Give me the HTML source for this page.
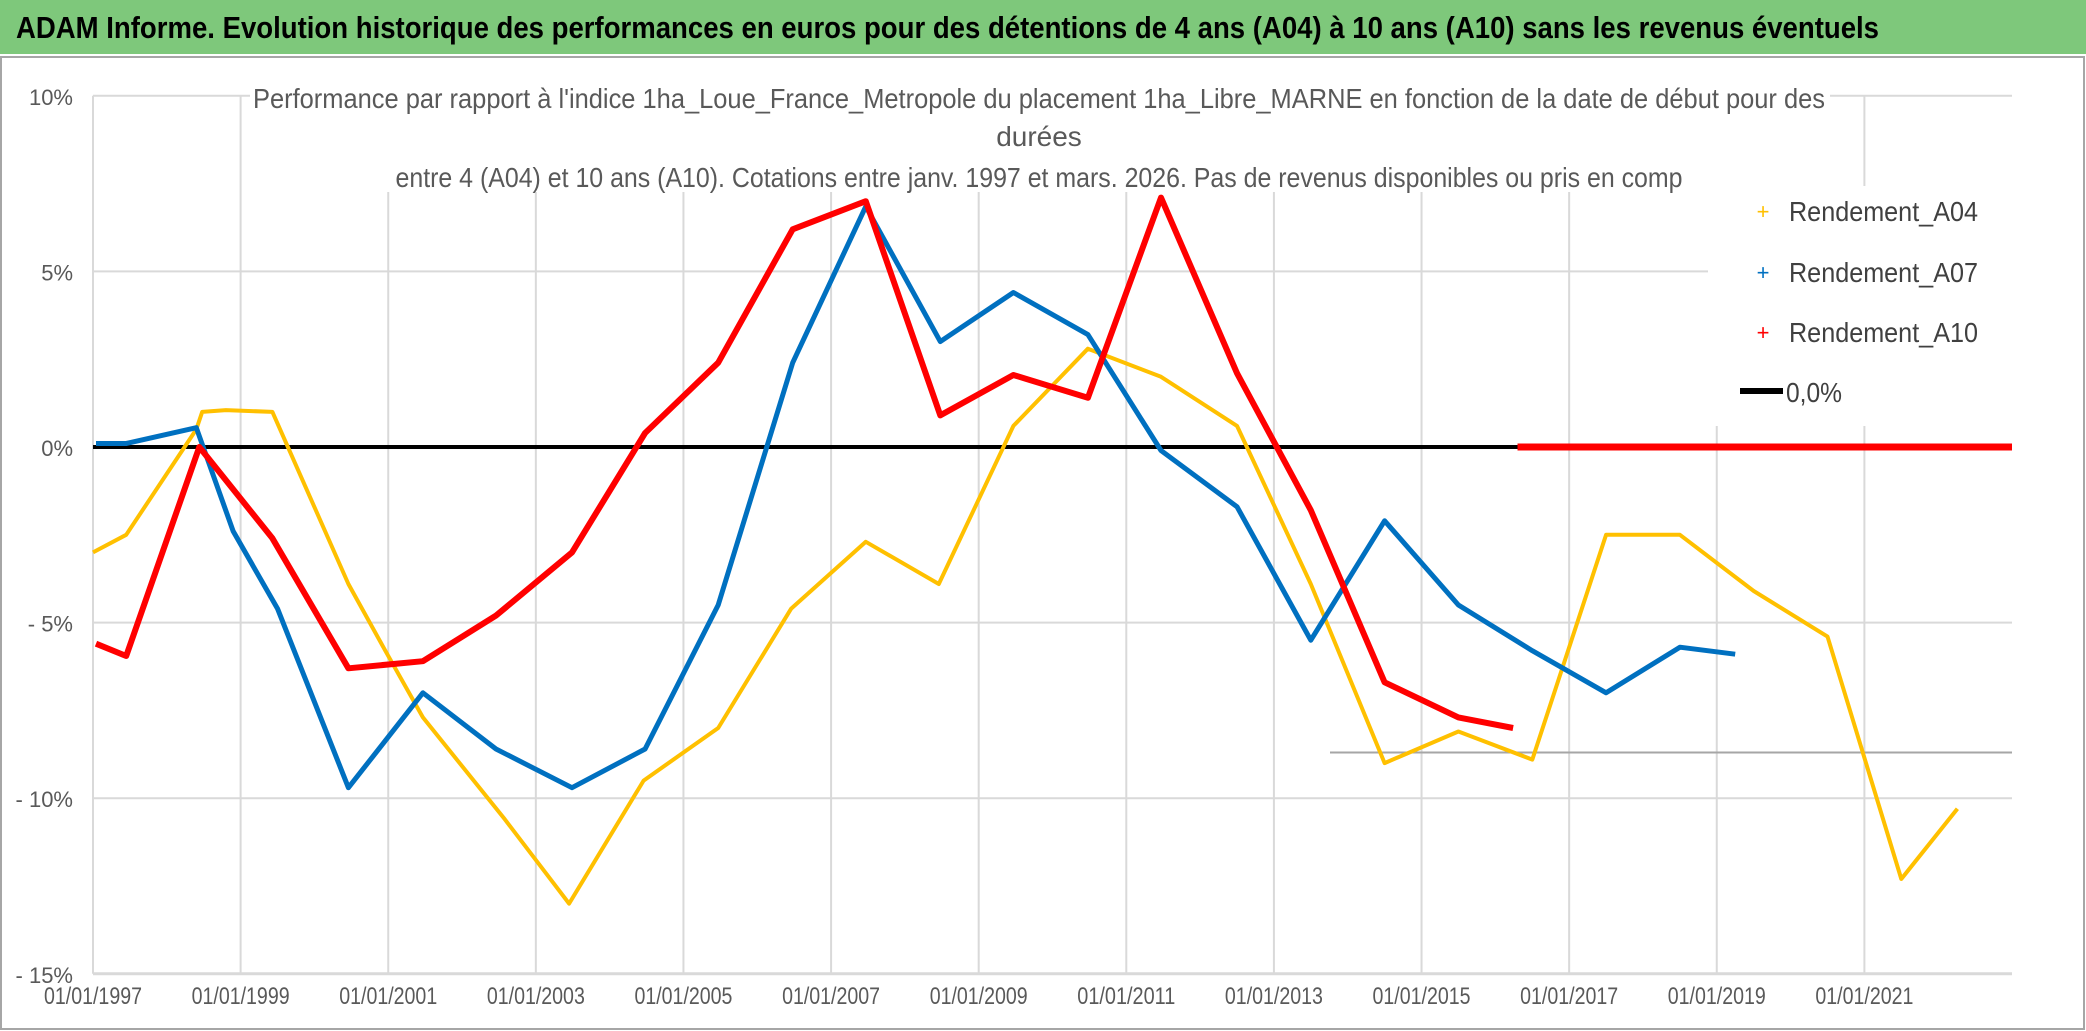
<!DOCTYPE html>
<html><head><meta charset="utf-8"><style>
html,body{margin:0;padding:0;background:#fff}
svg{display:block}
text{font-family:"Liberation Sans Narrow","Liberation Sans",sans-serif}
</style></head><body>
<svg id="chart" width="2086" height="1031" viewBox="0 0 2086 1031" xmlns="http://www.w3.org/2000/svg">
<rect x="0" y="0" width="2086" height="1031" fill="#fff"/>
<rect x="0" y="0" width="2086" height="54" fill="#7ec87b"/>
<text x="16" y="38" font-size="31" font-weight="bold" fill="#000" textLength="1863" lengthAdjust="spacingAndGlyphs">ADAM Informe. Evolution historique des performances en euros pour des détentions de 4 ans (A04) à 10 ans (A10) sans les revenus éventuels</text>
<rect x="1" y="57" width="2083" height="972" fill="none" stroke="#a6a6a6" stroke-width="2"/>
<g id="grid"></g>
<g id="series"></g>
<rect x="250" y="76" width="1580" height="116" fill="#fff"/>
<text x="1039" y="108" font-size="28" fill="#595959" text-anchor="middle" textLength="1572" lengthAdjust="spacingAndGlyphs">Performance par rapport à l'indice 1ha_Loue_France_Metropole  du placement 1ha_Libre_MARNE en fonction de la date de début pour des</text>
<text x="1039" y="146" font-size="28" fill="#595959" text-anchor="middle">durées</text>
<text x="1039" y="187" font-size="28" fill="#595959" text-anchor="middle" textLength="1287" lengthAdjust="spacingAndGlyphs">entre 4 (A04) et 10 ans (A10). Cotations entre janv. 1997 et mars. 2026. Pas de revenus disponibles ou pris en comp</text>
<g>
<rect x="1708" y="186" width="315" height="240" fill="#fff"/>
<text x="1763" y="219" font-size="22" fill="#ffc000" text-anchor="middle">+</text>
<text x="1789" y="221" font-size="28" fill="#404040" textLength="189" lengthAdjust="spacingAndGlyphs">Rendement_A04</text>
<text x="1763" y="280" font-size="22" fill="#0070c0" text-anchor="middle">+</text>
<text x="1789" y="282" font-size="28" fill="#404040" textLength="189" lengthAdjust="spacingAndGlyphs">Rendement_A07</text>
<text x="1763" y="340" font-size="22" fill="#ff0000" text-anchor="middle">+</text>
<text x="1789" y="342" font-size="28" fill="#404040" textLength="189" lengthAdjust="spacingAndGlyphs">Rendement_A10</text>
<line x1="1740" y1="391" x2="1783" y2="391" stroke="#000" stroke-width="6"/>
<text x="1786" y="402" font-size="28" fill="#404040" textLength="56" lengthAdjust="spacingAndGlyphs">0,0%</text>
</g>
</svg>
<script>
const yTicks=[10,5,0,-5,-10,-15];
const yTickLabels=["10%","5%","0%","- 5%","- 10%","- 15%"];
const xTicks=[1997,1999,2001,2003,2005,2007,2009,2011,2013,2015,2017,2019,2021];
const xTickLabels=["01/01/1997","01/01/1999","01/01/2001","01/01/2003","01/01/2005","01/01/2007","01/01/2009","01/01/2011","01/01/2013","01/01/2015","01/01/2017","01/01/2019","01/01/2021"];
const a04Dates=[1997.0,1997.45,1998.4,1998.48,1998.8,1999.43,2000.46,2000.96,2001.47,2002.58,2003.45,2004.46,2005.47,2006.46,2007.47,2008.46,2009.47,2010.48,2011.47,2012.5,2013.5,2014.5,2015.5,2016.5,2017.5,2018.5,2019.5,2020.5,2021.5,2022.26];
const a04Values=[-3.0,-2.5,0.5,1.0,1.05,1.0,-3.9,-5.8,-7.7,-10.6,-13.0,-9.5,-8.0,-4.6,-2.7,-3.9,0.6,2.8,2.0,0.6,-3.9,-9.0,-8.1,-8.9,-2.5,-2.5,-4.1,-5.4,-12.3,-10.3];
const a07Dates=[1997.04,1997.45,1998.4,1998.9,1999.5,2000.46,2001.47,2002.46,2003.49,2004.48,2005.47,2006.48,2007.47,2008.48,2009.47,2010.48,2011.47,2012.5,2013.5,2014.5,2015.5,2016.5,2017.5,2018.5,2019.25];
const a07Values=[0.1,0.1,0.55,-2.4,-4.6,-9.7,-7.0,-8.6,-9.7,-8.6,-4.5,2.4,6.85,3.0,4.4,3.2,-0.1,-1.7,-5.5,-2.1,-4.5,-5.8,-7.0,-5.7,-5.9];
const a10Dates=[1997.04,1997.45,1998.44,1999.43,2000.46,2001.47,2002.46,2003.49,2004.48,2005.47,2006.48,2007.47,2008.48,2009.47,2010.48,2011.47,2012.5,2013.5,2014.5,2015.5,2016.24];
const a10Values=[-5.6,-5.95,0,-2.6,-6.3,-6.1,-4.8,-3.0,0.4,2.4,6.2,7.0,0.9,2.05,1.4,7.1,2.1,-1.8,-6.7,-7.7,-8.0];
const a10ZeroDates=[2016.3,2023];
const a10ZeroValues=[0,0];
const a04ZeroDates=[2022.6,2023];
const a04ZeroValues=[0,0];

const X0=93,X1=2012,Y0=95.8,Y1=973.8;
function xs(t){return X0+(t-1997)/(2023-1997)*(X1-X0);}
function ys(v){return Y0+(10-v)/25*(Y1-Y0);}
const NS="http://www.w3.org/2000/svg";
const grid=document.getElementById('grid'),ser=document.getElementById('series');
function mk(tag,attrs,parent){const e=document.createElementNS(NS,tag);for(const k in attrs)e.setAttribute(k,attrs[k]);parent.appendChild(e);return e;}
yTicks.forEach((v,i)=>{
  const l=mk('line',{x1:X0,x2:X1,y1:ys(v),y2:ys(v),stroke:'#d9d9d9','stroke-width':2},grid);
  
  
  const t=mk('text',{x:73,y:ys(v)+9,'font-size':22,fill:'#595959','text-anchor':'end'},grid);
  t.textContent=yTickLabels[i];
  
  
});
xTicks.forEach((d,i)=>{
  const l=mk('line',{x1:xs(d),x2:xs(d),y1:Y0,y2:Y1,stroke:'#d9d9d9','stroke-width':2},grid);
  
  
  const t=mk('text',{x:xs(d),y:1004,'font-size':24,fill:'#595959','text-anchor':'middle',textLength:98,lengthAdjust:'spacingAndGlyphs'},grid);
  t.textContent=xTickLabels[i];
  
  
});
const ex=mk('line',{x1:1330,x2:X1,y1:ys(-8.7),y2:ys(-8.7),stroke:'#a6a6a6','stroke-width':2},grid);


const ax=mk('line',{x1:X0,x2:X1,y1:Y1,y2:Y1,stroke:'#d9d9d9','stroke-width':3},grid);


function line(d,v,color,w,name){
  const pts=d.map((t,i)=>xs(t).toFixed(1)+','+ys(v[i]).toFixed(1)).join(' ');
  const p=mk('polyline',{points:pts,fill:'none',stroke:color,'stroke-width':w,'stroke-linejoin':'round'},ser);
  
  
}
const z=mk('line',{x1:X0,x2:X1,y1:ys(0),y2:ys(0),stroke:'#000','stroke-width':4},ser);


line(a04Dates,a04Values,'#ffc000',4,'series-a04');
line(a04ZeroDates,a04ZeroValues,'#ffc000',6,'series-a04-zero');
line(a07Dates,a07Values,'#0070c0',5,'series-a07');
line(a10Dates,a10Values,'#ff0000',6,'series-a10');
line(a10ZeroDates,a10ZeroValues,'#ff0000',7,'series-a10-zero');
</script>
</body></html>
